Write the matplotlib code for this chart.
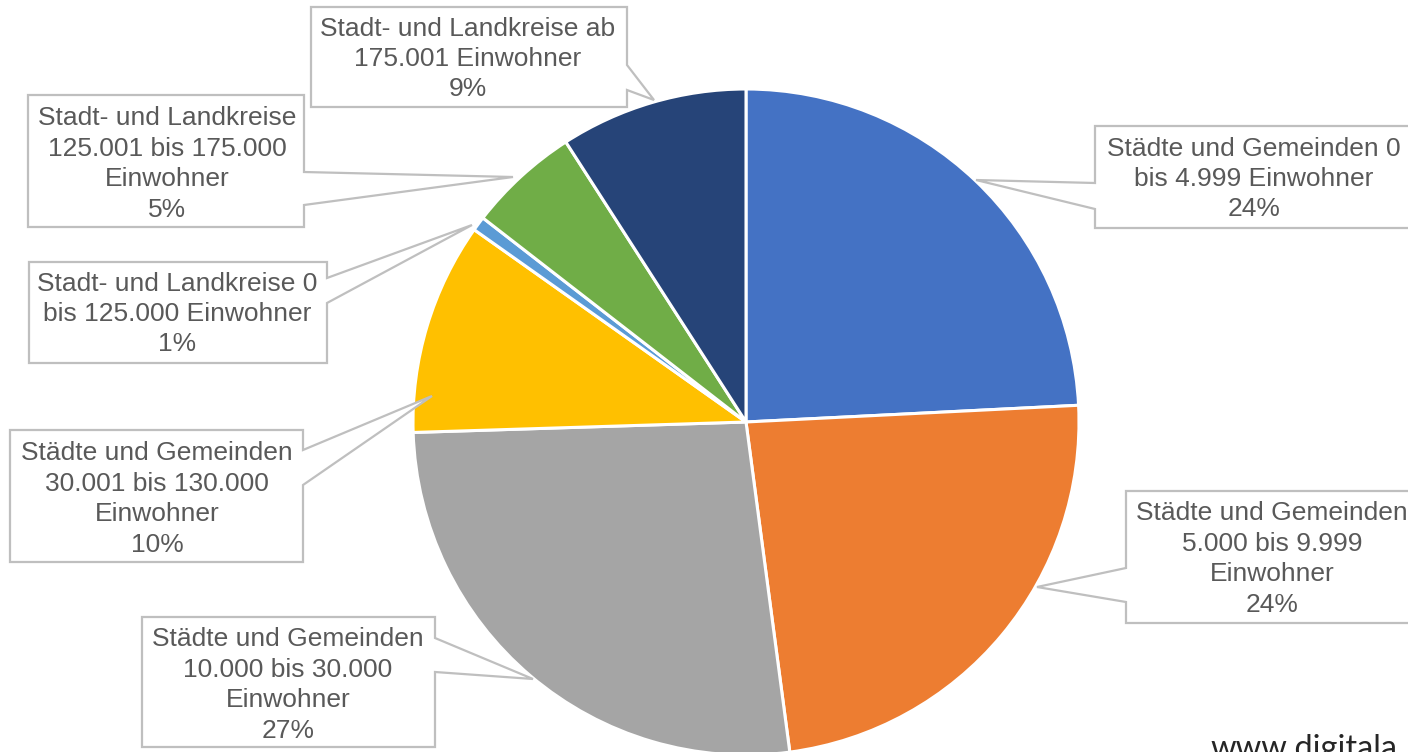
import matplotlib.pyplot as plt
from matplotlib.patches import Polygon

# share of municipalities / districts (percent), clockwise from 12 o'clock
categories = [
    "Städte und Gemeinden 0\nbis 4.999 Einwohner",
    "Städte und Gemeinden\n5.000 bis 9.999\nEinwohner",
    "Städte und Gemeinden\n10.000 bis 30.000\nEinwohner",
    "Städte und Gemeinden\n30.001 bis 130.000\nEinwohner",
    "Stadt- und Landkreise 0\nbis 125.000 Einwohner",
    "Stadt- und Landkreise\n125.001 bis 175.000\nEinwohner",
    "Stadt- und Landkreise ab\n175.001 Einwohner",
]
values = [24.2, 23.7, 26.6, 10.3, 0.7, 5.4, 9.1]
colors = ["#4472C4", "#ED7D31", "#A5A5A5", "#FFC000", "#5B9BD5", "#70AD47", "#264478"]

# callout layout in pixels: box (x0, y0, x1, y1), text centre, tail side, tail base, tail tip
callouts = [
    ((1095, 126, 1420, 228), (1254, 179), "left", (183, 209), (976, 180)),
    ((1126, 491, 1420, 623), (1272, 559), "left", (568, 602), (1037, 587)),
    ((142, 617, 435, 747), (288, 685), "right", (638, 672), (533, 679)),
    ((10, 430, 303, 562), (157, 499), "right", (450, 485), (432, 396)),
    ((29, 262, 327, 363), (177, 314), "right", (278, 303), (472, 225)),
    ((28, 95, 304, 227), (167, 164), "right", (172, 205), (513, 177)),
    ((311, 7, 627, 107), (468, 59), "right", (65, 90), (654, 100)),
]

W, H = 1408, 752
fig = plt.figure(figsize=(W / 100, H / 100), dpi=100)
ax = fig.add_axes([0, 0, 1, 1])

# y axis inverted so everything is in screen pixels; -90 start + ccw = clockwise from top
ax.pie(
    values,
    colors=colors,
    center=(746, 422),
    radius=333,
    startangle=-90,
    counterclock=True,
    wedgeprops=dict(edgecolor="white", linewidth=2.2),
)
ax.set_xlim(0, W)
ax.set_ylim(H, 0)
ax.set_aspect("equal")
ax.axis("off")

line_col = "#BFBFBF"
text_col = "#595959"

for cat, val, (box, tpos, side, base, tip) in zip(categories, values, callouts):
    x0, y0, x1, y1 = box
    if side == "right":
        pts = [(x0, y0), (x1, y0), (x1, base[0]), tip, (x1, base[1]), (x1, y1), (x0, y1)]
    else:
        pts = [(x0, y0), (x1, y0), (x1, y1), (x0, y1), (x0, base[1]), tip, (x0, base[0])]
    ax.add_patch(Polygon(pts, closed=True, facecolor="white", edgecolor=line_col,
                         linewidth=1.6, zorder=3))
    ax.text(tpos[0], tpos[1], "{}\n{:.0f}%".format(cat, val), ha="center", va="center",
            fontsize=19, family="Liberation Sans", color=text_col,
            linespacing=1.34, zorder=4)

# watermark, cut off by the image border like in the original
ax.text(1210, 758, "www.digitala", ha="left", va="baseline",
        fontsize=23.5, family="Lato", color="#262626", zorder=5)

fig.savefig("out.png", dpi=100)
